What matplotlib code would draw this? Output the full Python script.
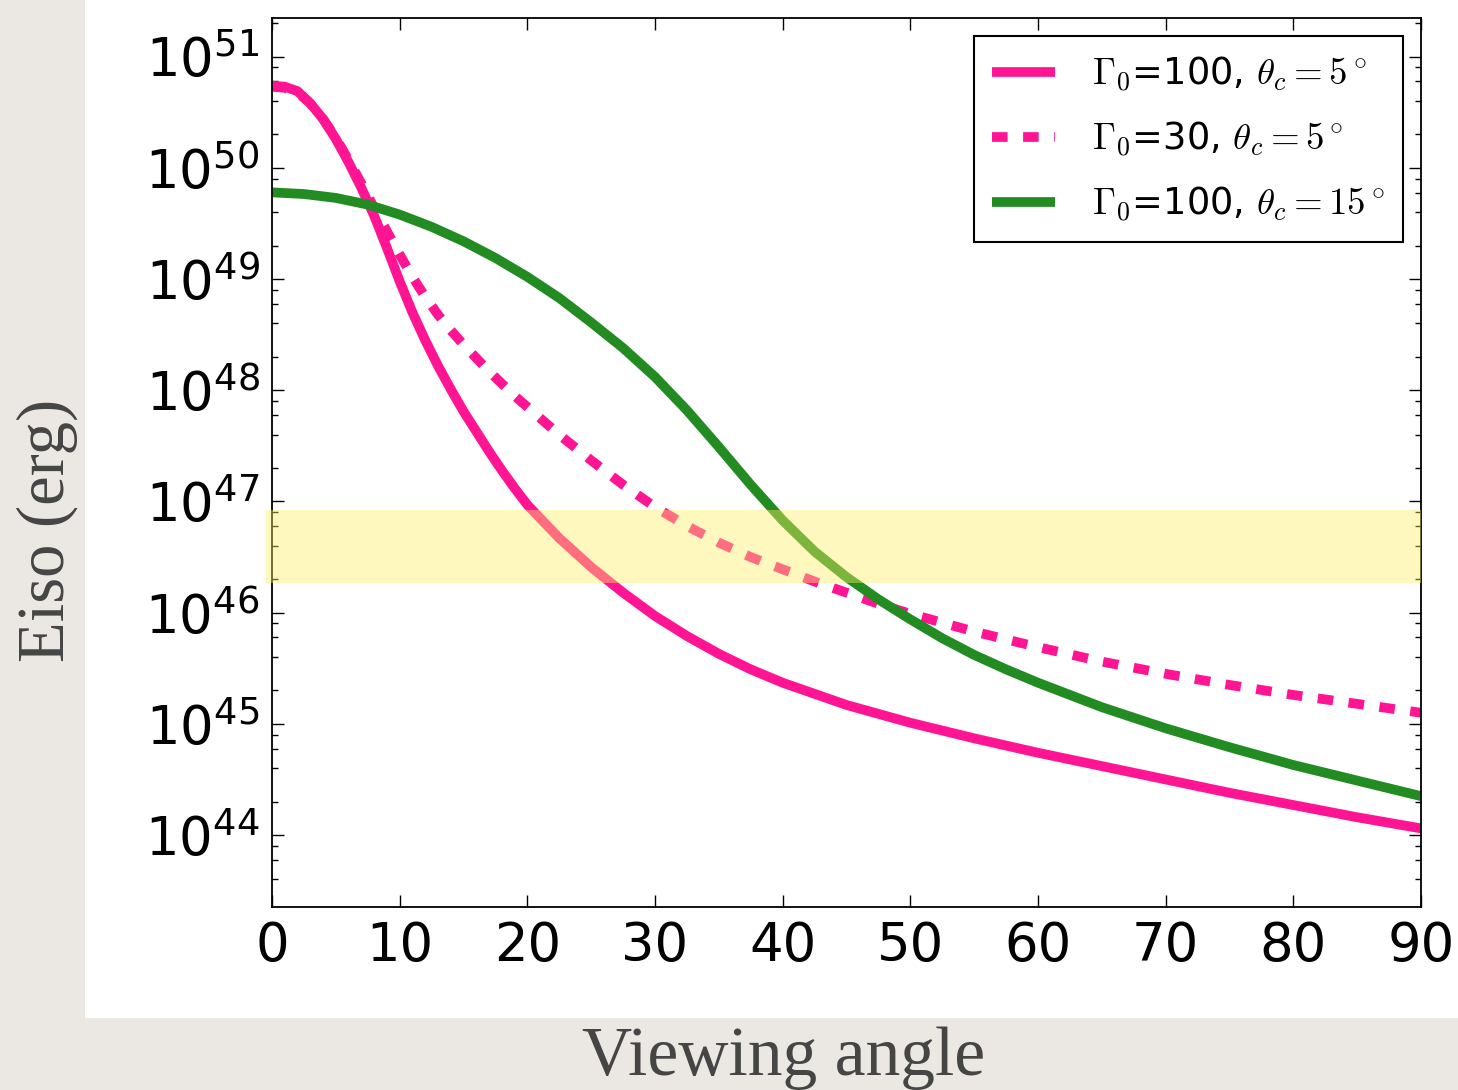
import numpy as np
import matplotlib
matplotlib.use("Agg")
import matplotlib.pyplot as plt
from matplotlib.patches import Rectangle
from matplotlib.ticker import LogLocator, NullFormatter

# ---------------- data ----------------
# Gamma0=100, theta_c=5 deg (solid pink)
angle_a = [0, 1, 2, 3, 4, 5, 6, 7, 8, 9, 10, 11, 12, 13, 14, 15, 16, 17, 18, 19, 20,
           22.5, 25, 27.5, 30, 32.5, 35, 37.5, 40, 45, 50, 55, 60, 65, 70, 75, 80, 85, 90]
log_eiso_a = [50.74, 50.73, 50.69, 50.58, 50.44, 50.26, 50.05, 49.82, 49.57, 49.28,
              48.98, 48.70, 48.45, 48.22, 48.01, 47.81, 47.63, 47.45, 47.28, 47.12,
              46.97, 46.67, 46.41, 46.18, 45.97, 45.79, 45.63, 45.49, 45.37, 45.17,
              45.01, 44.87, 44.74, 44.62, 44.50, 44.38, 44.27, 44.16, 44.06]

# Gamma0=30, theta_c=5 deg (dotted pink)
angle_b = [0, 1, 2, 3, 4, 5, 6, 7, 8, 9, 10, 11, 12, 13, 14, 15, 16, 17, 18, 19, 20,
           22.5, 25, 27.5, 30, 32.5, 35, 37.5, 40, 42.5, 45, 47.5, 50, 55, 60, 65, 70,
           75, 80, 85, 90]
log_eiso_b = [50.73, 50.72, 50.68, 50.58, 50.44, 50.27, 50.07, 49.86, 49.64, 49.43,
              49.22, 49.02, 48.84, 48.68, 48.54, 48.41, 48.29, 48.17, 48.06, 47.95,
              47.85, 47.60, 47.37, 47.15, 46.95, 46.78, 46.63, 46.50, 46.39, 46.28,
              46.18, 46.08, 45.99, 45.83, 45.69, 45.56, 45.45, 45.35, 45.26, 45.18,
              45.10]

# Gamma0=100, theta_c=15 deg (solid green)
angle_c = [0, 2.5, 5, 7.5, 10, 12.5, 15, 17.5, 20, 22.5, 25, 27.5, 30, 32.5, 35, 37.5,
           40, 42.5, 45, 47.5, 50, 52.5, 55, 57.5, 60, 65, 70, 75, 80, 85, 90]
log_eiso_c = [49.78, 49.765, 49.73, 49.67, 49.58, 49.47, 49.34, 49.19, 49.02, 48.83,
              48.61, 48.38, 48.12, 47.82, 47.49, 47.15, 46.83, 46.55, 46.32, 46.12,
              45.94, 45.77, 45.62, 45.49, 45.37, 45.15, 44.96, 44.79, 44.63, 44.49,
              44.35]

labels = [r'$\Gamma_0$=100, $\theta_c=5^\circ$',
          r'$\Gamma_0$=30, $\theta_c=5^\circ$',
          r'$\Gamma_0$=100, $\theta_c=15^\circ$']

band_log_low, band_log_high = 46.27, 46.92
band_x_start, band_x_end = -0.47, 90

x_ticks = [0, 10, 20, 30, 40, 50, 60, 70, 80, 90]
y_decades = [44, 45, 46, 47, 48, 49, 50, 51]

# ---------------- figure ----------------
plt.rcParams['mathtext.fontset'] = 'cm'
plt.rcParams['font.family'] = 'DejaVu Sans'

W, H = 1458, 1090
fig = plt.figure(figsize=(W / 100, H / 100), dpi=100, facecolor='#ebe8e3')
# white slide area
fig.patches.append(Rectangle((85 / W, 1 - 1018 / H), (W - 85) / W, 1018 / H,
                             transform=fig.transFigure, facecolor='white',
                             edgecolor='none', zorder=-10))

ax = fig.add_axes([272 / W, 1 - 907 / H, (1421 - 272) / W, (907 - 18) / H])
ax.set_facecolor('white')

pink = '#ff1493'
green = '#228b22'

ax.plot(angle_a, 10 ** np.array(log_eiso_a), color=pink, lw=7, label=labels[0],
        solid_capstyle='butt', solid_joinstyle='round')
ax.plot(angle_b, 10 ** np.array(log_eiso_b), color=pink, lw=7, label=labels[1],
        linestyle=(0, (1.6, 1.6)), dash_capstyle='butt')
ax.plot(angle_c, 10 ** np.array(log_eiso_c), color=green, lw=7, label=labels[2],
        solid_capstyle='butt', solid_joinstyle='round')

ax.set_yscale('log')
ax.set_xlim(0, 90)
ax.set_ylim(10 ** 43.353, 10 ** 51.348)

ax.fill_between([band_x_start, band_x_end], 10 ** band_log_low, 10 ** band_log_high,
                color=(1.0, 0.94, 0.39), alpha=0.41, lw=0, zorder=5, clip_on=False)

ax.set_xticks(x_ticks)
ax.set_xticklabels([str(t) for t in x_ticks])
ax.set_yticks([10.0 ** d for d in y_decades])
ax.set_yticklabels([r'$\mathdefault{10^{%d}}$' % d for d in y_decades])
ax.yaxis.set_minor_locator(LogLocator(base=10, subs=(2, 4, 6, 8), numticks=50))
ax.yaxis.set_minor_formatter(NullFormatter())

ax.tick_params(which='both', direction='in', top=True, right=True, colors='black')
ax.tick_params(which='major', length=8.5, width=1.0)
ax.tick_params(which='minor', length=4.3, width=1.0)
ax.tick_params(axis='x', which='major', labelsize=38, pad=9)
ax.tick_params(axis='y', which='major', labelsize=38, pad=9)
for s in ax.spines.values():
    s.set_linewidth(1.3)

leg = ax.legend(loc='upper right', bbox_to_anchor=(1403 / W, 1 - 36 / H),
                bbox_transform=fig.transFigure, borderaxespad=0, fontsize=26.5,
                handlelength=1.7, handletextpad=1.0, labelspacing=0.70,
                borderpad=0.5, fancybox=False, framealpha=1)
leg.get_frame().set_edgecolor('black')
leg.get_frame().set_linewidth(1.5)

# slide labels
fig.text(784 / W, 1 - 1058 / H, 'Viewing angle', ha='center', va='center',
         fontsize=50, family='Liberation Serif', color='#454545')
fig.text(47 / W, 1 - 530 / H, 'Eiso (erg)', ha='center', va='center', rotation=90,
         fontsize=48, family='Liberation Serif', color='#454545')

fig.savefig('out.png', dpi=100, facecolor=fig.get_facecolor())
